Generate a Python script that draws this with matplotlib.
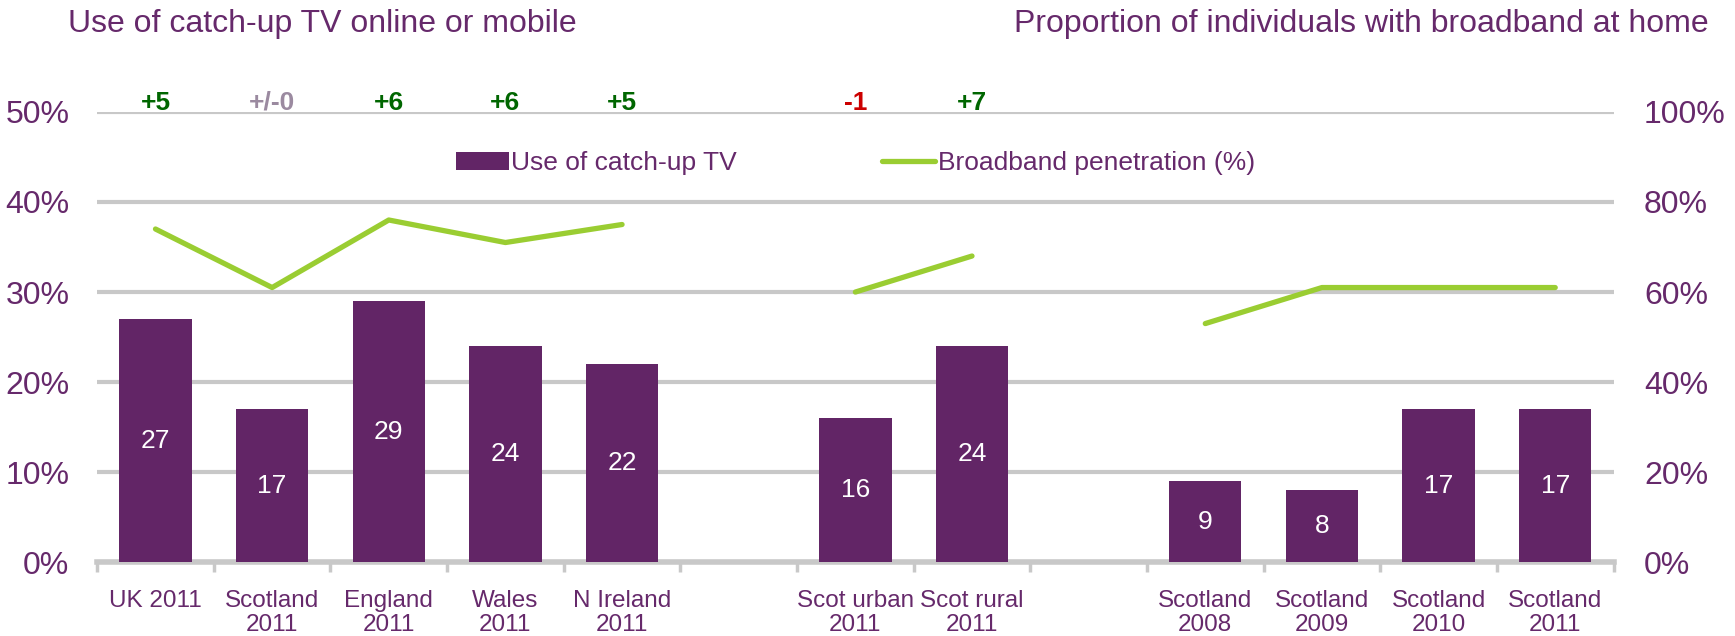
import matplotlib.pyplot as plt
import numpy as np

plt.rcParams['font.family'] = ['Liberation Sans', 'DejaVu Sans']

# slots on the x axis ('' = empty gap slot)
labels = ["UK 2011", "Scotland\n2011", "England\n2011", "Wales\n2011", "N Ireland\n2011", "",
          "Scot urban\n2011", "Scot rural\n2011", "",
          "Scotland\n2008", "Scotland\n2009", "Scotland\n2010", "Scotland\n2011"]
catchup = [27, 17, 29, 24, 22, np.nan, 16, 24, np.nan, 9, 8, 17, 17]
broadband = [74, 61, 76, 71, 75, np.nan, 60, 68, np.nan, 53, 61, 61, 61]
changes = ["+5", "+/-0", "+6", "+6", "+5", "", "-1", "+7", "", "", "", "", ""]

purple = "#622566"
txt = "#66296B"
green = "#9ACD32"
grey = "#C8C8C8"
change_col = {"+": "#006600", "-": "#CC0000", "+/-": "#9B8AA0"}

fig = plt.figure(figsize=(17.35, 6.36), dpi=100)
ax = fig.add_axes([0.056, 0.116, 0.874, 0.708])
ax2 = ax.twinx()

x = np.arange(len(labels))
vals = np.nan_to_num(catchup)
ax.bar(x, vals, width=0.62, color=purple, zorder=3, label="Use of catch-up TV")
for xi, v in zip(x, catchup):
    if not np.isnan(v):
        ax.text(xi, v / 2, f"{v:.0f}", ha="center", va="center", color="white", fontsize=19, zorder=4)

ax2.plot(x, broadband, color=green, lw=3.8, solid_capstyle="round", zorder=5,
         label="Broadband penetration (%)")

for xi, c in zip(x, changes):
    if not c:
        continue
    col = change_col["+/-"] if c.startswith("+/-") else change_col[c[0]]
    ax.text(xi, 50.25, c, ha="center", va="baseline", fontsize=19, fontweight="bold", color=col)

ax.set_xlim(-0.5, len(labels) - 0.5)
ax.set_ylim(0, 50)
ax2.set_ylim(0, 100)
ax.set_yticks(np.arange(0, 51, 10))
ax.set_yticklabels([f"{v}%" for v in range(0, 51, 10)])
ax2.set_yticks(np.arange(0, 101, 20))
ax2.set_yticklabels([f"{v}%" for v in range(0, 101, 20)])
ax.yaxis.grid(True, color=grey, lw=3, zorder=0)
ax.set_axisbelow(True)

ax.set_xticks(x)
ax.set_xticklabels(labels, fontsize=17.5, color=txt, linespacing=1.12)
ax.set_xticks(np.arange(-0.5, len(labels)), minor=True)
ax.tick_params(axis="x", which="major", length=0, pad=20)
ax.tick_params(axis="x", which="minor", length=7, width=2.5, color=grey)
ax.tick_params(axis="y", length=0, labelsize=23, labelcolor=txt, pad=20)
ax2.tick_params(axis="y", length=0, labelsize=23, labelcolor=txt, pad=22)

for a in (ax, ax2):
    for s in ("top", "left", "right", "bottom"):
        a.spines[s].set_visible(False)
ax.axhline(0, color=grey, lw=4, zorder=2, clip_on=False)

h1, l1 = ax.get_legend_handles_labels()
h2, l2 = ax2.get_legend_handles_labels()
ax.legend(h1 + h2, l1 + l2, loc="upper center", bbox_to_anchor=(0.5, 0.965), ncol=2,
          frameon=False, fontsize=19, labelcolor=txt, handlelength=2.0, handletextpad=0.1,
          columnspacing=5.5)

fig.text(0.039, 0.962, "Use of catch-up TV online or mobile", fontsize=23, color=txt, va="center")
fig.text(0.985, 0.962, "Proportion of individuals with broadband at home", fontsize=23, color=txt,
         va="center", ha="right")

fig.savefig("out.png", dpi=100)
